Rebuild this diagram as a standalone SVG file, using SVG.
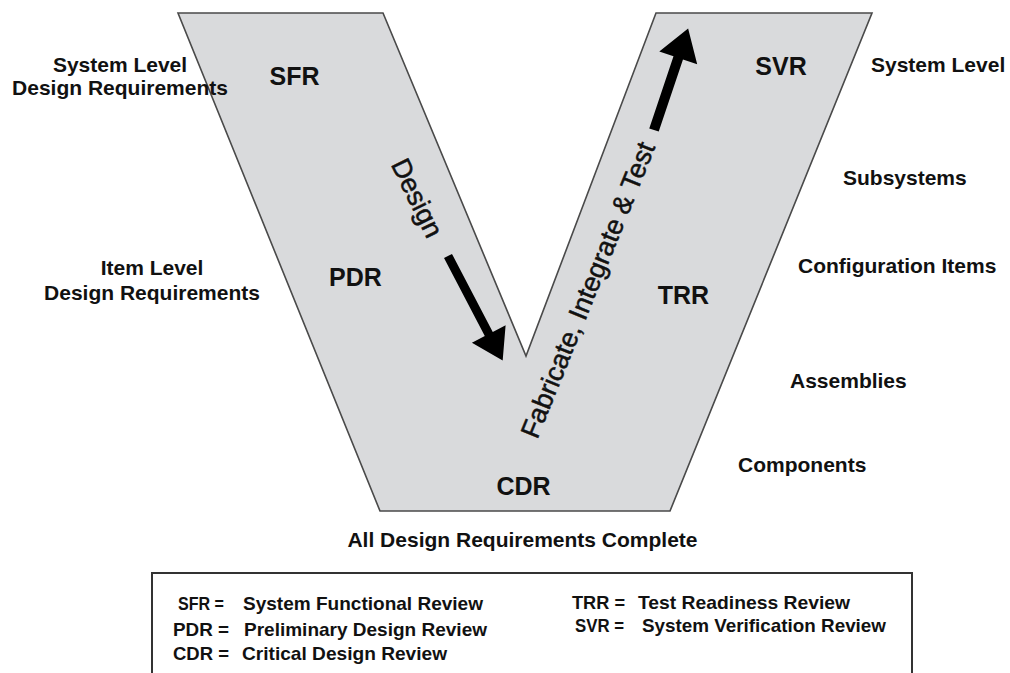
<svg xmlns="http://www.w3.org/2000/svg" width="1010" height="673" viewBox="0 0 1010 673">
<style>
.lbl{font-family:"Liberation Sans",Arial,sans-serif;font-weight:bold;font-size:21px;fill:#111}
.rev{font-family:"Liberation Sans",Arial,sans-serif;font-weight:bold;font-size:25px;fill:#111}
.phase{font-family:"Liberation Sans",Arial,sans-serif;font-size:27px;fill:#111;stroke:#111;stroke-width:0.5}
.leg{font-family:"Liberation Sans Narrow","Liberation Sans",Arial,sans-serif;font-weight:bold;font-size:19px;fill:#111}
</style>
<rect width="1010" height="673" fill="#fff"/>
<g id="v-shape">
<polygon points="178,13 383,13 526,356 656,13 872,13 670,511 380,511" fill="#d9dadc" stroke="#4a4a4a" stroke-width="1.6" stroke-linejoin="miter"/>
</g>
<g id="connectors">
<polygon transform="translate(448,256) rotate(62.4)" points="0,-4.5 88,-4.5 88,-19 118,0 88,19 88,4.5 0,4.5" fill="#000"/>
<polygon transform="translate(654,130) rotate(-71.4)" points="0,-5 76,-5 76,-20 107,0 76,20 76,5 0,5" fill="#000"/>
</g>
<g id="phase-design"><text class="phase" x="0" y="0" text-anchor="middle" dominant-baseline="central" transform="translate(417,198) rotate(64)">Design</text></g>
<g id="phase-fit"><text class="phase" x="0" y="0" text-anchor="middle" dominant-baseline="central" transform="translate(588,290) rotate(-68)">Fabricate, Integrate &amp; Test</text></g>
<g id="sfr"><text class="rev" x="294.5" y="85" text-anchor="middle">SFR</text></g>
<g id="pdr"><text class="rev" x="355.5" y="286" text-anchor="middle">PDR</text></g>
<g id="cdr"><text class="rev" x="523.5" y="495" text-anchor="middle">CDR</text></g>
<g id="trr"><text class="rev" x="683.5" y="304" text-anchor="middle">TRR</text></g>
<g id="svr"><text class="rev" x="781" y="75" text-anchor="middle">SVR</text></g>
<g id="left-labels">
<text class="lbl" x="120" y="72" text-anchor="middle">System Level</text>
<text class="lbl" x="120" y="95" text-anchor="middle">Design Requirements</text>
<text class="lbl" x="152" y="275" text-anchor="middle">Item Level</text>
<text class="lbl" x="152" y="300" text-anchor="middle">Design Requirements</text>
</g>
<g id="right-labels">
<text class="lbl" x="871" y="72">System Level</text>
<text class="lbl" x="843" y="185">Subsystems</text>
<text class="lbl" x="798" y="273">Configuration Items</text>
<text class="lbl" x="790" y="388">Assemblies</text>
<text class="lbl" x="738" y="472">Components</text>
</g>
<g id="bottom-label"><text class="lbl" x="522.5" y="547" text-anchor="middle">All Design Requirements Complete</text></g>
<g id="legend">
<rect x="152" y="573" width="760" height="120" fill="#fff" stroke="#333" stroke-width="2"/>
<text class="leg" x="178" y="610" textLength="46" lengthAdjust="spacingAndGlyphs">SFR =</text>
<text class="leg" x="243" y="610" textLength="240" lengthAdjust="spacingAndGlyphs">System Functional Review</text>
<text class="leg" x="173" y="636" textLength="56" lengthAdjust="spacingAndGlyphs">PDR =</text>
<text class="leg" x="244" y="636" textLength="243" lengthAdjust="spacingAndGlyphs">Preliminary Design Review</text>
<text class="leg" x="173" y="660" textLength="56" lengthAdjust="spacingAndGlyphs">CDR =</text>
<text class="leg" x="242" y="660" textLength="205" lengthAdjust="spacingAndGlyphs">Critical Design Review</text>
<text class="leg" x="572" y="609" textLength="53" lengthAdjust="spacingAndGlyphs">TRR =</text>
<text class="leg" x="638" y="609" textLength="212" lengthAdjust="spacingAndGlyphs">Test Readiness Review</text>
<text class="leg" x="575" y="632" textLength="49" lengthAdjust="spacingAndGlyphs">SVR =</text>
<text class="leg" x="642" y="632" textLength="244" lengthAdjust="spacingAndGlyphs">System Verification Review</text>
</g>
</svg>
